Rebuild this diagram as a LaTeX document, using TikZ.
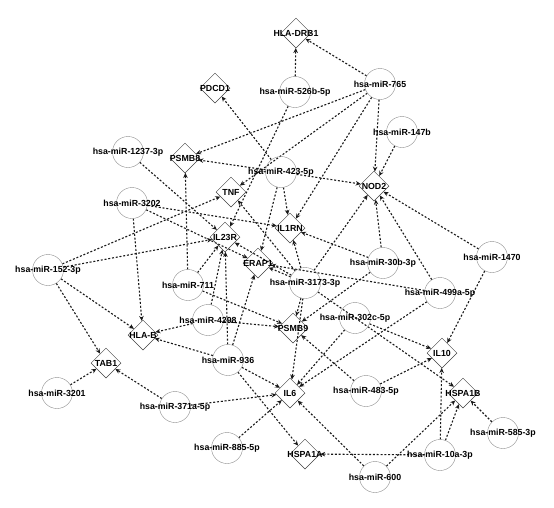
\documentclass[tikz,border=0pt]{standalone}
\usepackage{fontspec}
\setmainfont{Liberation Sans}
\usetikzlibrary{shapes.geometric,arrows.meta}
\pgfdeclarelayer{bg}
\pgfsetlayers{bg,main}
\tikzset{
  gene/.style={diamond, draw=black!75, line width=0.5pt, minimum width=30pt, minimum height=30pt, inner sep=0pt},
  mir/.style={circle, draw=black!45, line width=0.4pt, minimum size=31pt, inner sep=0pt},
  lbl/.style={font=\bfseries\fontsize{8.8}{10}\selectfont, inner sep=0pt},
  link/.style={-{Stealth[length=5pt,width=4.5pt]}, line width=1.1pt, dash pattern=on 2pt off 1.8pt, black!90},
}
\begin{document}
\begin{tikzpicture}[x=1pt,y=-1pt]
\useasboundingbox (0,0) rectangle (554,507);
% genes
\foreach \n/\t/\x/\y in {
  HLADRB1/HLA-DRB1/296/33, PDCD1/PDCD1/215/88, PSMB8/PSMB8/185/158,
  TNF/TNF/231/192, IL23R/IL23R/225/237, IL1RN/IL1RN/290/228,
  NOD2/NOD2/374/186, ERAP1/ERAP1/258/263, HLAB/HLA-B/143/335,
  TAB1/TAB1/106/363, PSMB9/PSMB9/293/328, IL10/IL10/442/353,
  IL6/IL6/290/393, HSPA1B/HSPA1B/463/393, HSPA1A/HSPA1A/305/454}
  \node[gene, label={[lbl]center:\t}] (\n) at (\x,\y) {};
% miRNAs
\foreach \n/\t/\x/\y in {
  m765/hsa-miR-765/380/84, m526/hsa-miR-526b-5p/295/92,
  m147/hsa-miR-147b/402/132, m1237/hsa-miR-1237-3p/128/152,
  m423/hsa-miR-423-5p/281/172, m3202/hsa-miR-3202/132/203,
  m152/hsa-miR-152-3p/48/270, m711/hsa-miR-711/188/285,
  m4298/hsa-miR-4298/208/320, m936/hsa-miR-936/228/360,
  m3173/hsa-miR-3173-3p/305/283, m30b/hsa-miR-30b-3p/383/263,
  m1470/hsa-miR-1470/492/257, m499/hsa-miR-499a-5p/440/293,
  m302/hsa-miR-302c-5p/355/318, m483/hsa-miR-483-5p/366/391,
  m3201/hsa-miR-3201/57/393, m371/hsa-miR-371a-5p/175/407,
  m885/hsa-miR-885-5p/227/448, m600/hsa-miR-600/375/477,
  m10a/hsa-miR-10a-3p/440/455, m585/hsa-miR-585-3p/503/433}
  \node[mir, label={[lbl]center:\t}] (\n) at (\x,\y) {};
\begin{pgfonlayer}{bg}
\foreach \a/\b in {
  m526/HLADRB1, m765/HLADRB1, m765/NOD2, m765/PSMB8, m765/TNF, m765/IL1RN,
  m423/PDCD1, m147/NOD2, m423/NOD2, m423/PSMB8, m423/IL1RN, m423/ERAP1,
  m526/IL23R, m1237/IL23R, m3202/ERAP1, m3202/IL1RN, m3202/HLAB,
  m152/TNF, m152/IL23R, m152/HLAB, m152/TAB1,
  m3201/TAB1, m371/TAB1, m371/IL6, m885/IL6,
  m936/IL6, m936/HLAB, m936/HSPA1A, m936/IL23R, m936/ERAP1,
  m4298/HLAB, m4298/PSMB9, m4298/IL23R,
  m711/PSMB8, m711/IL23R, m711/PSMB9,
  m3173/ERAP1, m3173/IL1RN, m3173/NOD2, m3173/PSMB9, m3173/IL6, m3173/HSPA1B,
  m3173/IL23R, m3173/TNF,
  m30b/IL1RN, m30b/NOD2, m30b/PSMB9,
  m499/NOD2, m499/ERAP1, m499/IL6,
  m1470/NOD2, m1470/IL10, m302/IL6, m302/IL10,
  m483/PSMB9, m483/IL10, m600/IL6, m600/HSPA1B,
  m10a/HSPA1B, m10a/HSPA1A, m10a/IL10, m585/HSPA1B}
  \draw[link] (\a) -- (\b);
\end{pgfonlayer}
\end{tikzpicture}
\end{document}
